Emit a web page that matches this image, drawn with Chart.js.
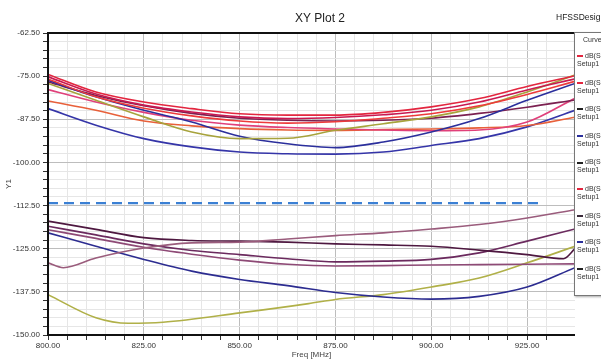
<!DOCTYPE html>
<html>
<head>
<meta charset="utf-8">
<script src="https://cdn.jsdelivr.net/npm/chart.js@4.4.1/dist/chart.umd.min.js"></script>
<style>
    html, body { margin: 0; padding: 0; background: #fff; overflow: hidden; }
    #wrap { position: relative; width: 601px; height: 361px; }
    #plot { position: absolute; left: 0; top: 0; }
    .designName { position: absolute; left: 556px; top: 12px; font: 8.5px "Liberation Sans Narrow", "Liberation Sans", sans-serif; color: #222; white-space: nowrap; }
    #curveBox { position: absolute; left: 574px; top: 32px; width: 60px; height: 262px; border: 1px solid #777; background: #fff; box-shadow: 1px 1px 2px #aaa; font: 7px "Liberation Sans Narrow", "Liberation Sans", sans-serif; color: #333; }
    #curveBox .head { position: absolute; left: 8px; top: 3px; }
    #curveBox .row { position: absolute; left: 2px; white-space: nowrap; line-height: 8px; }
    #curveBox .row i { display: inline-block; width: 6px; height: 2px; margin-right: 2px; vertical-align: middle; }
</style>
</head>
<body>
<div id="wrap">
    <canvas id="plot" width="601" height="361"></canvas>
    <div class="designName">HFSSDesign1</div>
    <div id="curveBox"><div class="head">Curve Info</div></div>
</div>
<script>
// sweep points shared by most traces (MHz)
const freqMHz = [800, 812.5, 825, 837.5, 850, 862.5, 875, 887.5, 900, 912.5, 925, 937.5];

// upper group of traces (dB)
const red1 = [-74.5, -79.6, -82.5, -84.4, -85.9, -86.3, -86.3, -85.5, -83.9, -81.5, -78.0, -74.9];
const red2 = [-75.2, -80.2, -83.4, -85.4, -86.8, -87.3, -87.0, -86.2, -84.9, -82.5, -79.0, -75.8];
const red3 = [-75.8, -81.0, -84.3, -86.5, -88.0, -88.6, -88.2, -87.2, -85.9, -83.6, -80.3, -76.5];
const oliveHigh = [-77.1, -82.0, -86.8, -91.2, -93.1, -93.0, -90.7, -88.8, -86.8, -83.9, -79.6, -74.7];
const blueHigh = [-76.2, -81.0, -84.9, -88.3, -92.4, -94.6, -95.7, -94.1, -91.2, -87.3, -82.0, -77.1];
const maroonHigh = [-76.7, -80.6, -83.6, -85.8, -87.2, -87.8, -88.0, -87.8, -87.2, -85.8, -84.0, -81.9];
const pinkHigh = [-78.9, -82.5, -85.5, -87.8, -89.2, -89.9, -90.3, -90.6, -90.8, -90.6, -88.3, -81.4];
const orangeHigh = [-82.2, -84.9, -88.0, -89.4, -90.2, -90.6, -90.7, -90.5, -90.3, -90.0, -89.3, -86.9];
const blueHigh2 = [-84.4, -89.2, -93.1, -95.5, -97.0, -97.5, -97.6, -97.0, -95.1, -93.1, -89.7, -84.9];

// lower group of traces (dB)
const mauveFreq = [800, 804, 812.5, 825, 837.5, 850, 862.5, 875, 887.5, 900, 912.5, 925, 937.5];
const mauveLow = [-129.1, -130.5, -127.7, -124.8, -123.3, -123.1, -122.2, -121.2, -120.4, -119.3, -118.0, -116.1, -113.7];
const plumFreq = [800, 812.5, 825, 837.5, 850, 862.5, 875, 887.5, 900, 912.5, 925, 934.5, 937.5];
const plumLow = [-117.0, -119.4, -121.8, -122.6, -122.8, -123.1, -123.6, -123.9, -124.3, -125.4, -126.7, -127.9, -125.0];
const purpleLow = [-118.5, -121.0, -123.6, -125.5, -126.7, -127.9, -128.8, -128.6, -128.1, -126.2, -122.8, -119.3];
const violetLow = [-119.5, -122.0, -124.6, -126.6, -128.3, -129.5, -130.0, -129.9, -129.7, -129.6, -129.5, -129.4];
const blueLow = [-120.4, -124.3, -128.1, -131.5, -133.9, -135.7, -137.7, -139.0, -139.6, -138.8, -136.1, -130.5];
const oliveFreq = [800, 812.5, 821, 830, 850, 868, 875, 887.5, 900, 912.5, 925, 937.5];
const oliveLow = [-138.3, -145.0, -146.6, -146.3, -143.6, -140.9, -139.7, -138.3, -136.1, -133.5, -129.1, -124.3];

// dashed limit line
const limitFreq = [800, 929];
const limitDb = [-111.8, -111.8];

// axis range / ticks
const yMin = -150, yMax = -62.5, yMajor = 12.5, yMinor = 2.5;
const xMin = 800, xMax = 937.5, xMajor = 25, xMinor = 5;

// legend box entries (only the visible part)
const curveNames = ['dB(S(1,1))', 'dB(S(1,1))', 'dB(S(2,2))', 'dB(S(1,1))', 'dB(S(2,2))', 'dB(S(1,1))', 'dB(S(1,1))', 'dB(S(1,1))', 'dB(S(1,1))'];
const curveColors = ['#e3263f', '#e3263f', '#222222', '#2b2f9c', '#222222', '#e3263f', '#3a2a3a', '#2b2f9c', '#222222'];

const zip = (xs, ys) => xs.map((x, i) => ({ x: x, y: ys[i] }));

function trace(label, xs, ys, color) {
    return {
        label: label,
        data: zip(xs, ys),
        borderColor: color,
        borderWidth: 1.6,
        pointRadius: 0,
        fill: false,
        cubicInterpolationMode: 'monotone'
    };
}

const datasets = [
    trace('red1', freqMHz, red1, '#e3263f'),
    trace('red2', freqMHz, red2, '#c81850'),
    trace('red3', freqMHz, red3, '#ee3a3a'),
    trace('oliveHigh', freqMHz, oliveHigh, '#a7a33c'),
    trace('blueHigh', freqMHz, blueHigh, '#2b2f9c'),
    trace('maroonHigh', freqMHz, maroonHigh, '#7b2050'),
    trace('pinkHigh', freqMHz, pinkHigh, '#e0407a'),
    trace('orangeHigh', freqMHz, orangeHigh, '#e8603a'),
    trace('blueHigh2', freqMHz, blueHigh2, '#3535a8'),
    trace('mauveLow', mauveFreq, mauveLow, '#9a5c7c'),
    trace('plumLow', plumFreq, plumLow, '#4e1840'),
    trace('purpleLow', freqMHz, purpleLow, '#6b2a5e'),
    trace('violetLow', freqMHz, violetLow, '#8e4a76'),
    trace('blueLow', freqMHz, blueLow, '#2c2c90'),
    trace('oliveLow', oliveFreq, oliveLow, '#b0b048'),
    {
        label: 'limit',
        data: zip(limitFreq, limitDb),
        borderColor: '#3b80d4',
        borderWidth: 2.2,
        borderDash: [10, 6],
        pointRadius: 0,
        fill: false
    }
];

// heavy frame + title, like the HFSS report window
const framePlugin = {
    id: 'frame',
    afterDraw(chart) {
        const { ctx, chartArea: a } = chart;
        ctx.save();
        ctx.strokeStyle = '#111';
        ctx.lineWidth = 2;
        ctx.beginPath();
        ctx.moveTo(a.right, a.top);
        ctx.lineTo(a.left, a.top);
        ctx.lineTo(a.left, a.bottom);
        ctx.lineTo(a.right, a.bottom);
        ctx.stroke();
        ctx.fillStyle = '#222';
        ctx.font = '12px "Liberation Sans Narrow", "Liberation Sans", sans-serif';
        ctx.textAlign = 'center';
        ctx.textBaseline = 'middle';
        ctx.fillText('XY Plot 2', 320, 19);
        ctx.restore();
    }
};

const tickFont = { family: '"Liberation Sans Narrow", "Liberation Sans", sans-serif', size: 8 };
const isMajor = (v, step) => Math.abs(v / step - Math.round(v / step)) < 1e-6;

new Chart(document.getElementById('plot'), {
    type: 'line',
    data: { datasets: datasets },
    plugins: [framePlugin],
    options: {
        responsive: false,
        animation: false,
        layout: { padding: { top: 33, right: 26, left: 0, bottom: 0 } },
        plugins: { legend: { display: false }, tooltip: { enabled: false } },
        scales: {
            x: {
                type: 'linear',
                min: xMin,
                max: xMax,
                afterFit: (s) => { s.height = 26; },
                afterBuildTicks: (s) => { s.ticks = s.ticks.filter(t => isMajor(t.value, xMinor)); },
                ticks: {
                    stepSize: xMinor,
                    autoSkip: false,
                    maxRotation: 0,
                    padding: 1,
                    color: '#333',
                    font: tickFont,
                    callback: (v) => isMajor(v, xMajor) ? v.toFixed(2) : ''
                },
                grid: {
                    color: (c) => isMajor(c.tick.value, xMajor) ? '#bdbdbd' : '#e6e6e6',
                    tickColor: '#333',
                    tickLength: 5
                },
                border: { display: false },
                title: { display: true, text: 'Freq [MHz]', color: '#444', font: tickFont, padding: { top: 0, bottom: 1 } }
            },
            y: {
                min: yMin,
                max: yMax,
                afterFit: (s) => { s.width = 48; },
                ticks: {
                    stepSize: yMinor,
                    autoSkip: false,
                    padding: 3,
                    color: '#333',
                    font: tickFont,
                    callback: (v) => isMajor(v, yMajor) ? v.toFixed(2) : ''
                },
                grid: {
                    color: (c) => isMajor(c.tick.value, yMajor) ? '#bdbdbd' : '#e6e6e6',
                    tickColor: '#333',
                    tickLength: 5
                },
                border: { display: false },
                title: { display: true, text: 'Y1', color: '#444', font: tickFont, padding: { top: 4, bottom: 0 } }
            }
        }
    }
});

// fill the curve info box
const box = document.getElementById('curveBox');
curveNames.forEach((name, i) => {
    const row = document.createElement('div');
    row.className = 'row';
    row.style.top = (19 + i * 26.6) + 'px';
    row.innerHTML = '<i style="background:' + curveColors[i] + '"></i>' + name + '<br>Setup1 : Sweep';
    box.appendChild(row);
});
</script>
</body>
</html>
